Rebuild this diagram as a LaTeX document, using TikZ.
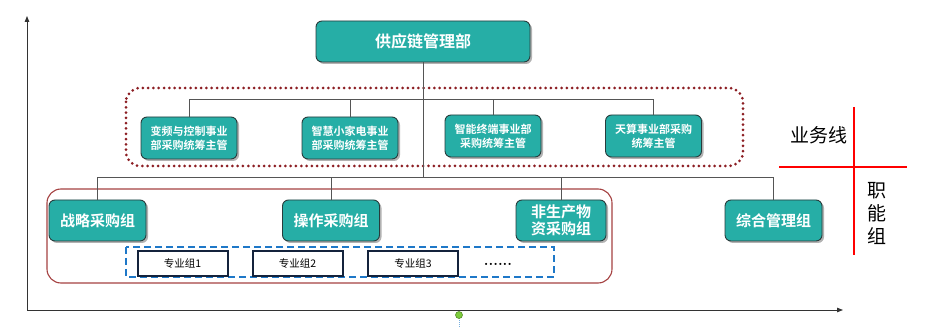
\documentclass[tikz,border=0pt]{standalone}
\usepackage{fontspec}
\newfontfamily\cjk{Noto Sans CJK SC}[BoldFont={Noto Sans CJK SC Bold}]
\usetikzlibrary{arrows.meta,shadows}
\definecolor{teal1}{RGB}{38,174,166}
\definecolor{tealborder}{RGB}{40,60,60}
\definecolor{dotred}{RGB}{140,30,35}
\definecolor{brownred}{RGB}{165,65,65}
\definecolor{dashblue}{RGB}{30,120,200}
\definecolor{navy}{RGB}{20,35,60}
\definecolor{conn}{RGB}{85,85,85}
\definecolor{gdot}{RGB}{125,205,60}
\tikzset{
  tbox/.style={draw=tealborder, line width=0.9pt, fill=teal1, rounded corners=6pt,
    text=white, align=center, inner sep=0pt, font=\cjk\bfseries,
    drop shadow={shadow xshift=2pt, shadow yshift=-2pt, fill=black, opacity=0.3}},
  sbox/.style={draw=navy, line width=2pt, fill=white, inner sep=0pt,
    minimum width=90pt, minimum height=25pt, font=\cjk\fontsize{10.5}{12}\selectfont},
  link/.style={draw=conn, line width=0.9pt},
  axis/.style={draw=black!80, line width=0.9pt, -{Triangle[length=6pt,width=4.5pt]}},
}
\begin{document}
\begin{tikzpicture}[x=1pt,y=-1pt]
\useasboundingbox (0,0) rectangle (925,328);
% axes
\coordinate (o) at (27,310);
\coordinate (ytop) at (27,16);
\coordinate (xend) at (843,310);
\draw[axis] (o) -- (ytop);
\draw[axis] (o) -- (xend);
% green dot
\draw[densely dotted, dashblue!60, line width=1pt] (459,318) -- (459,328);
\node[circle, fill=gdot, draw=gdot!70!black, line width=0.6pt, minimum size=7pt, inner sep=0pt] (gd) at (459,315) {};

% frames
\draw[dotred, line width=3pt, dash pattern=on 0pt off 5.3pt, line cap=round, rounded corners=14pt]
  (126,88) rectangle (743,166);
\draw[brownred, line width=1.1pt, rounded corners=14pt] (47,189) rectangle (612,283);
\draw[dashblue, line width=1.8pt, dash pattern=on 7pt off 4pt] (126,247) rectangle (554,277);

% top
\node[tbox, minimum width=214pt, minimum height=41pt, font=\cjk\bfseries\fontsize{16}{18}\selectfont] (top) at (423,41.5) {供应链管理部};

% middle row
\tikzset{mid/.style={tbox, minimum width=96pt, minimum height=42pt, font=\cjk\bfseries\fontsize{11}{14}\selectfont}}
\node[mid] (m1) at (189,138) {变频与控制事业\\部采购统筹主管};
\node[mid] (m2) at (350,138) {智慧小家电事业\\部采购统筹主管};
\node[mid] (m3) at (493,136) {智能终端事业部\\采购统筹主管};
\node[mid] (m4) at (653.5,136) {天算事业部采购\\统筹主管};

% lower row
\tikzset{low/.style={tbox, minimum width=97pt, minimum height=41pt, font=\cjk\bfseries\fontsize{15}{17.5}\selectfont}}
\node[low] (l1) at (97.5,220.5) {战略采购组};
\node[low] (l2) at (331,220.5) {操作采购组};
\node[low, minimum width=90pt] (l3) at (561,220.5) {非生产物\\资采购组};
\node[low] (l4) at (773.5,220.5) {综合管理组};

% small boxes
\node[sbox] (s1) at (182.5,263.5) {专业组1};
\node[sbox] (s2) at (297.5,263.5) {专业组2};
\node[sbox] (s3) at (413,263.5) {专业组3};
\node[font=\bfseries\fontsize{15}{15}\selectfont, inner sep=0pt] (dots) at (498,264) {......};

% connectors
\coordinate (ub) at (0,99);
\coordinate (lb) at (0,177);
\draw[link] (top.south) -- (top.south |- lb);
\draw[link] (m1.north) -- (m1.north |- ub) -- (m4.north |- ub) -- (m4.north);
\draw[link] (m2.north) -- (m2.north |- ub);
\draw[link] (m3.north) -- (m3.north |- ub);
\draw[link] (l1.north) -- (l1.north |- lb) -- (l4.north |- lb) -- (l4.north);
\draw[link] (l2.north) -- (l2.north |- lb);
\draw[link] (l3.north) -- (l3.north |- lb);

% red cross
\coordinate (vt) at (854,107);
\coordinate (vb) at (854,255);
\coordinate (hl) at (779,167);
\coordinate (hr) at (907,167);
\draw[red, line width=1.6pt] (vt) -- (vb);
\draw[red, line width=1.6pt] (hl) -- (hr);
\node[font=\cjk\fontsize{19}{20}\selectfont, inner sep=0pt] (yw) at (819,135) {业务线};
\node[font=\cjk\fontsize{19}{23}\selectfont, inner sep=0pt, align=center] (zn) at (877,213) {职\\能\\组};
\end{tikzpicture}
\end{document}
